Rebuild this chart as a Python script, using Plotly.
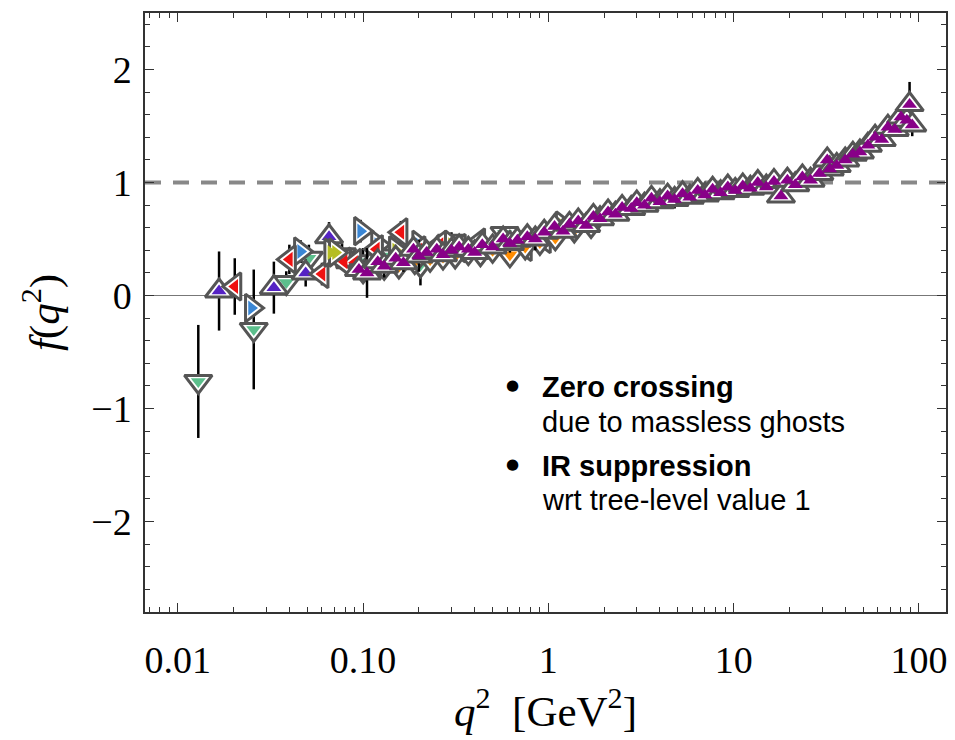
import plotly.graph_objects as go

# ---------------- data ----------------
purple_q = [0.095, 0.105, 0.12, 0.13, 0.15, 0.165, 0.187, 0.2, 0.22, 0.25, 0.27, 0.3, 0.33, 0.37, 0.4,
            0.44, 0.5, 0.57, 0.62, 0.68, 0.77, 0.85, 0.95, 1.08, 1.2, 1.3, 1.45, 1.6, 1.75, 1.9, 2.1,
            2.3, 2.5, 2.8, 3.0, 3.3, 3.6, 4.0, 4.4, 4.8, 5.3, 5.8, 6.4, 7.0, 7.7, 8.5, 9.3, 10.2, 11.2,
            12.3, 13.5, 15.0, 16.5, 18.0, 19.5, 21.5, 23.5, 26, 29, 32, 33, 36, 40, 44, 48, 53, 58,
            63, 68, 74, 80, 86, 89, 92]
purple_f = [0.23, 0.20, 0.30, 0.26, 0.33, 0.29, 0.41, 0.35, 0.38, 0.41, 0.36, 0.40, 0.43, 0.41, 0.38,
            0.45, 0.43, 0.50, 0.46, 0.49, 0.52, 0.50, 0.56, 0.61, 0.57, 0.63, 0.66, 0.62, 0.70, 0.68, 0.74,
            0.72, 0.78, 0.77, 0.82, 0.80, 0.86, 0.83, 0.88, 0.85, 0.90, 0.87, 0.93, 0.89, 0.94, 0.91, 0.96, 0.93, 0.97,
            0.95, 1.00, 0.96, 1.01, 0.88, 1.02, 0.98, 1.05, 1.02, 1.08, 1.20, 1.12, 1.15, 1.20, 1.25, 1.27, 1.33, 1.40,
            1.38, 1.49, 1.47, 1.58, 1.55, 1.69, 1.51]
purple_e = [0.06, 0.22, 0.06, 0.10, 0.05, 0.08, 0.05, 0.14, 0.05, 0.05, 0.06, 0.05, 0.05, 0.05, 0.04,
            0.04, 0.05, 0.04, 0.08, 0.04, 0.04, 0.10, 0.04, 0.04, 0.04, 0.04, 0.04, 0.04, 0.04, 0.04, 0.04,
            0.04, 0.04, 0.04, 0.04, 0.04, 0.04, 0.04, 0.04, 0.08, 0.04, 0.04, 0.04, 0.04, 0.04, 0.04, 0.04, 0.04, 0.04,
            0.04, 0.04, 0.04, 0.04, 0.04, 0.04, 0.04, 0.04, 0.04, 0.04, 0.10, 0.08, 0.06, 0.08, 0.06, 0.06, 0.06, 0.06,
            0.06, 0.06, 0.06, 0.08, 0.08, 0.20, 0.10]

orange_q = [0.10, 0.13, 0.156, 0.19, 0.23, 0.27, 0.314, 0.37, 0.43, 0.50, 0.62, 0.75, 0.90, 1.09, 1.38, 1.70]
orange_f = [0.22, 0.25, 0.26, 0.30, 0.32, 0.34, 0.35, 0.38, 0.37, 0.40, 0.36, 0.43, 0.47, 0.51, 0.58, 0.62]
orange_e = [0.08, 0.06, 0.06, 0.05, 0.05, 0.05, 0.06, 0.05, 0.05, 0.05, 0.06, 0.05, 0.05, 0.08, 0.05, 0.05]

red_q = [0.0203, 0.040, 0.060, 0.079, 0.090, 0.118, 0.160, 0.200, 0.260, 0.330, 0.420, 0.550, 0.750, 0.950]
red_f = [0.08, 0.32, 0.19, 0.30, 0.29, 0.41, 0.56, 0.40, 0.45, 0.42, 0.47, 0.45, 0.43, 0.50]
red_e = [0.25, 0.13, 0.10, 0.08, 0.08, 0.08, 0.10, 0.06, 0.06, 0.05, 0.05, 0.05, 0.05, 0.05]

green_q = [0.0129, 0.0257, 0.0385, 0.051, 0.077, 0.100, 0.130, 0.204, 0.300, 0.580]
green_f = [-0.76, -0.30, 0.115, 0.33, 0.36, 0.30, 0.35, 0.27, 0.48, 0.55]
green_e = [0.50, 0.53, 0.10, 0.12, 0.10, 0.12, 0.10, 0.18, 0.08, 0.06]

blue_q = [0.025, 0.046, 0.097, 0.120, 0.150, 0.200]
blue_f = [-0.11, 0.39, 0.57, 0.45, 0.40, 0.45]
blue_e = [0.08, 0.10, 0.10, 0.08, 0.07, 0.06]

indigo_q = [0.0167, 0.033, 0.049, 0.0655, 0.085, 0.110]
indigo_f = [0.04, 0.07, 0.20, 0.52, 0.30, 0.28]
indigo_e = [0.35, 0.23, 0.12, 0.13, 0.10, 0.10]

olive_q = [0.067, 0.071, 0.150, 0.300, 1.19]
olive_f = [0.38, 0.38, 0.40, 0.45, 0.62]
olive_e = [0.08, 0.08, 0.06, 0.05, 0.05]

x_tickvals = [0.01, 0.1, 1, 10, 100]
x_ticktext = ["0.01", "0.10", "1", "10", "100"]
y_tickvals = [-2, -1, 0, 1, 2]
y_ticktext = ["\u22122", "\u22121", "0", "1", "2"]

series = [
    (green_q, green_f, green_e, "#5cbf8c", "triangle-down"),
    (indigo_q, indigo_f, indigo_e, "#5522c4", "triangle-up"),
    (blue_q, blue_f, blue_e, "#3a86d4", "triangle-right"),
    (red_q, red_f, red_e, "#ee1111", "triangle-left"),
    (olive_q, olive_f, olive_e, "#b5bd22", "triangle-right"),
    (orange_q, orange_f, orange_e, "#ff8c00", "triangle-down"),
    (purple_q, purple_f, purple_e, "#880088", "triangle-up"),
]

fig = go.Figure()
for q, f, e, col, sym in series:
    fig.add_trace(go.Scatter(
        x=q, y=f, mode="markers",
        error_y=dict(type="data", array=e, color="black", thickness=2.5, width=0),
        marker=dict(symbol=sym, size=24, color="white", line=dict(color="#555555", width=3)),
        showlegend=False, hoverinfo="skip"))
    fig.add_trace(go.Scatter(
        x=q, y=f, mode="markers",
        marker=dict(symbol=sym, size=13, color=col, line=dict(width=0)),
        showlegend=False, hoverinfo="skip"))

# dashed reference line at 1
fig.add_shape(type="line", xref="paper", x0=0, x1=1, yref="y", y0=1, y1=1,
              line=dict(color="#888888", width=4, dash="16px,12px"), layer="below")

minor_x = []
for dec in [0.001, 0.01, 0.1, 1, 10, 100]:
    for k in range(2, 10):
        minor_x.append(round(dec * k, 6))

axis_font = dict(family="Liberation Serif", size=38, color="black")
title_font = dict(family="Liberation Serif", size=43, color="black")

fig.update_xaxes(type="log", range=[-2.177, 2.146],
                 tickmode="array", tickvals=x_tickvals, ticktext=x_ticktext,
                 ticks="inside", ticklen=9, tickwidth=1.2, tickcolor="#333",
                 minor=dict(tickmode="array", tickvals=minor_x, ticks="inside", ticklen=5,
                            tickwidth=1, tickcolor="#333", showgrid=False),
                 showline=True, linecolor="#333", linewidth=1.5, mirror="ticks",
                 showgrid=False, zeroline=False, tickfont=axis_font, ticklabelstandoff=14,
                 title=dict(text="<i>q</i><sup>2</sup>&nbsp;&nbsp;[GeV<sup>2</sup>]",
                            font=title_font, standoff=8))
fig.update_yaxes(range=[-2.8, 2.5], tickmode="array", tickvals=y_tickvals, ticktext=y_ticktext,
                 ticks="inside", ticklen=9, tickwidth=1.2, tickcolor="#333",
                 minor=dict(dtick=0.2, ticks="inside", ticklen=5, tickwidth=1, tickcolor="#333",
                            showgrid=False),
                 showline=True, linecolor="#333", linewidth=1.5, mirror="ticks",
                 showgrid=False, zeroline=True, zerolinecolor="#777", zerolinewidth=1,
                 tickfont=axis_font, ticklabelstandoff=4,
                 title=dict(text="<i>f</i>(<i>q</i><sup>2</sup>)",
                            font=title_font, standoff=18))

# annotations (text block)
L, R, T, B = 145, 7, 13, 128
W, H = 955, 740
pw, ph = W - L - R, H - T - B
def px(x):
    return (x - L) / pw
def py(y):
    return (H - B - y) / ph

txt_font = dict(family="Liberation Sans", size=29, color="black")
lines = [
    ("<b>Zero crossing</b>", 387),
    ("due to massless ghosts", 422),
    ("<b>IR suppression</b>", 466),
    ("wrt tree-level value 1", 500),
]
for t, yy in lines:
    fig.add_annotation(x=px(541), y=py(yy), xref="paper", yref="paper", text=t,
                       showarrow=False, xanchor="left", yanchor="middle", font=txt_font)
for yy in [385, 464]:
    fig.add_annotation(x=px(513), y=py(yy), xref="paper", yref="paper", text="\u25cf",
                       showarrow=False, xanchor="center", yanchor="middle",
                       font=dict(family="DejaVu Sans", size=15, color="black"))

fig.update_layout(width=W, height=H, margin=dict(l=L, r=R, t=T, b=B),
                  paper_bgcolor="white", plot_bgcolor="white")

fig.write_html("out.html")
